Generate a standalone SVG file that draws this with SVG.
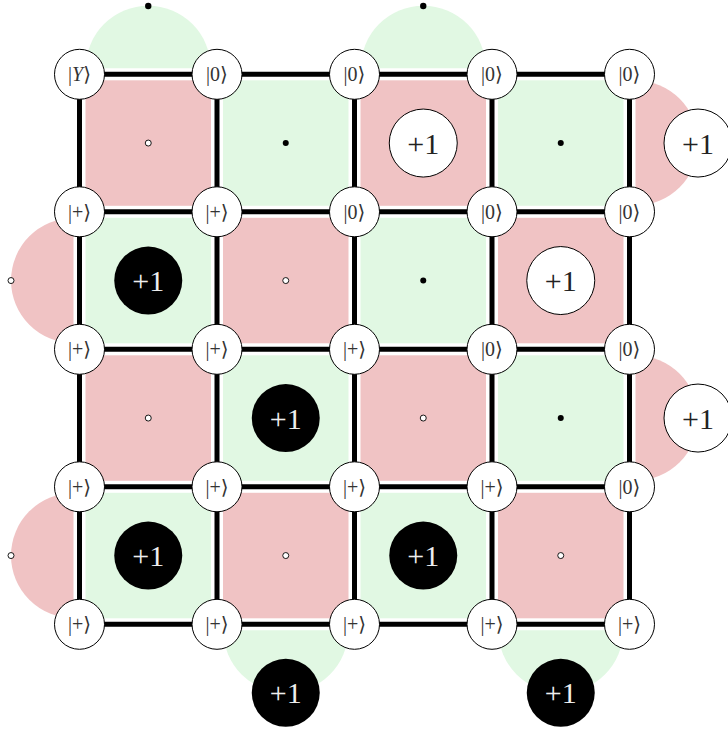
<svg xmlns="http://www.w3.org/2000/svg" width="728" height="731" viewBox="0 0 728 731">
<style>
.x{fill:#f0c3c4}
.z{fill:#e1f8e3}
.ln{stroke:#000;stroke-width:5;fill:none}
.q{fill:#fff;stroke:#000;stroke-width:1}
.ql{font-family:"Liberation Serif","DejaVu Serif",serif;font-size:20px;fill:#333;text-anchor:middle}
.pw{fill:#fff;stroke:#000;stroke-width:1}
.pb{fill:#000}
.pt{font-family:"Liberation Serif","DejaVu Serif",serif;font-size:30px;text-anchor:middle}
.dw{fill:#fff;stroke:#000;stroke-width:0.9}
.db{fill:#000}
</style>
<rect width="728" height="731" fill="#fff"/>
<g id="plaquettes">
<rect class="x" x="85.5" y="80.3" width="125.5" height="125.5"/>
<rect class="z" x="223" y="80.3" width="125.5" height="125.5"/>
<rect class="x" x="360.5" y="80.3" width="125.5" height="125.5"/>
<rect class="z" x="498" y="80.3" width="125.5" height="125.5"/>
<rect class="z" x="85.5" y="217.8" width="125.5" height="125.5"/>
<rect class="x" x="223" y="217.8" width="125.5" height="125.5"/>
<rect class="z" x="360.5" y="217.8" width="125.5" height="125.5"/>
<rect class="x" x="498" y="217.8" width="125.5" height="125.5"/>
<rect class="x" x="85.5" y="355.3" width="125.5" height="125.5"/>
<rect class="z" x="223" y="355.3" width="125.5" height="125.5"/>
<rect class="x" x="360.5" y="355.3" width="125.5" height="125.5"/>
<rect class="z" x="498" y="355.3" width="125.5" height="125.5"/>
<rect class="z" x="85.5" y="492.8" width="125.5" height="125.5"/>
<rect class="x" x="223" y="492.8" width="125.5" height="125.5"/>
<rect class="z" x="360.5" y="492.8" width="125.5" height="125.5"/>
<rect class="x" x="498" y="492.8" width="125.5" height="125.5"/>
<path class="z" d="M85.75 68.3 A62.5 62.5 0 0 1 210.75 68.3 Z"/>
<path class="z" d="M360.75 68.3 A62.5 62.5 0 0 1 485.75 68.3 Z"/>
<path class="x" d="M73.5 218.05 A62.5 62.5 0 0 0 73.5 343.05 Z"/>
<path class="x" d="M73.5 493.05 A62.5 62.5 0 0 0 73.5 618.05 Z"/>
<path class="x" d="M635.5 80.55 A62.5 62.5 0 0 1 635.5 205.55 Z"/>
<path class="x" d="M635.5 355.55 A62.5 62.5 0 0 1 635.5 480.55 Z"/>
<path class="z" d="M223.25 630.3 A62.5 62.5 0 0 0 348.25 630.3 Z"/>
<path class="z" d="M498.25 630.3 A62.5 62.5 0 0 0 623.25 630.3 Z"/>
</g>
<g id="connectors">
<path class="ln" d="M79.5 74.3H629.5M79.5 211.8H629.5M79.5 349.3H629.5M79.5 486.8H629.5M79.5 624.3H629.5"/>
<path class="ln" d="M79.5 74.3V624.3M217 74.3V624.3M354.5 74.3V624.3M492 74.3V624.3M629.5 74.3V624.3"/>
</g>
<g id="markers">
<circle class="dw" cx="148.25" cy="143.05" r="3"/>
<circle class="db" cx="285.75" cy="143.05" r="3"/>
<g id="p02"><circle class="pw" cx="423.25" cy="143.05" r="34"/><text class="pt" x="423.25" y="153.5" fill="#222">+1</text></g>
<circle class="db" cx="560.75" cy="143.05" r="3"/>
<g id="p10"><circle class="pb" cx="148.25" cy="280.55" r="34"/><text class="pt" x="148.25" y="291" fill="#eee">+1</text></g>
<circle class="dw" cx="285.75" cy="280.55" r="3"/>
<circle class="db" cx="423.25" cy="280.55" r="3"/>
<g id="p13"><circle class="pw" cx="560.75" cy="280.55" r="34"/><text class="pt" x="560.75" y="291" fill="#222">+1</text></g>
<circle class="dw" cx="148.25" cy="418.05" r="3"/>
<g id="p21"><circle class="pb" cx="285.75" cy="418.05" r="34"/><text class="pt" x="285.75" y="428.5" fill="#eee">+1</text></g>
<circle class="dw" cx="423.25" cy="418.05" r="3"/>
<circle class="db" cx="560.75" cy="418.05" r="3"/>
<g id="p30"><circle class="pb" cx="148.25" cy="555.55" r="34"/><text class="pt" x="148.25" y="566" fill="#eee">+1</text></g>
<circle class="dw" cx="285.75" cy="555.55" r="3"/>
<g id="p32"><circle class="pb" cx="423.25" cy="555.55" r="34"/><text class="pt" x="423.25" y="566" fill="#eee">+1</text></g>
<circle class="dw" cx="560.75" cy="555.55" r="3"/>
<circle class="db" cx="148.25" cy="6" r="3.2"/>
<circle class="db" cx="423.25" cy="6" r="3.2"/>
<circle class="dw" cx="11" cy="280.55" r="3"/>
<circle class="dw" cx="11" cy="555.55" r="3"/>
<g id="pr0"><circle class="pw" cx="698" cy="143.05" r="34"/><text class="pt" x="698" y="153.5" fill="#222">+1</text></g>
<g id="pr2"><circle class="pw" cx="698" cy="418.05" r="34"/><text class="pt" x="698" y="428.5" fill="#222">+1</text></g>
<g id="pb1"><circle class="pb" cx="285.75" cy="692.8" r="34"/><text class="pt" x="285.75" y="703.3" fill="#eee">+1</text></g>
<g id="pb3"><circle class="pb" cx="560.75" cy="692.8" r="34"/><text class="pt" x="560.75" y="703.3" fill="#eee">+1</text></g>
</g>
<g id="q00"><circle class="q" cx="79.5" cy="74.3" r="25"/><text class="ql" x="79.5" y="81">|<tspan font-style="italic">Y</tspan>⟩</text></g>
<g id="q01"><circle class="q" cx="217" cy="74.3" r="25"/><text class="ql" x="217" y="81">|0⟩</text></g>
<g id="q02"><circle class="q" cx="354.5" cy="74.3" r="25"/><text class="ql" x="354.5" y="81">|0⟩</text></g>
<g id="q03"><circle class="q" cx="492" cy="74.3" r="25"/><text class="ql" x="492" y="81">|0⟩</text></g>
<g id="q04"><circle class="q" cx="629.5" cy="74.3" r="25"/><text class="ql" x="629.5" y="81">|0⟩</text></g>
<g id="q10"><circle class="q" cx="79.5" cy="211.8" r="25"/><text class="ql" x="79.5" y="218.5">|+⟩</text></g>
<g id="q11"><circle class="q" cx="217" cy="211.8" r="25"/><text class="ql" x="217" y="218.5">|+⟩</text></g>
<g id="q12"><circle class="q" cx="354.5" cy="211.8" r="25"/><text class="ql" x="354.5" y="218.5">|0⟩</text></g>
<g id="q13"><circle class="q" cx="492" cy="211.8" r="25"/><text class="ql" x="492" y="218.5">|0⟩</text></g>
<g id="q14"><circle class="q" cx="629.5" cy="211.8" r="25"/><text class="ql" x="629.5" y="218.5">|0⟩</text></g>
<g id="q20"><circle class="q" cx="79.5" cy="349.3" r="25"/><text class="ql" x="79.5" y="356">|+⟩</text></g>
<g id="q21"><circle class="q" cx="217" cy="349.3" r="25"/><text class="ql" x="217" y="356">|+⟩</text></g>
<g id="q22"><circle class="q" cx="354.5" cy="349.3" r="25"/><text class="ql" x="354.5" y="356">|+⟩</text></g>
<g id="q23"><circle class="q" cx="492" cy="349.3" r="25"/><text class="ql" x="492" y="356">|0⟩</text></g>
<g id="q24"><circle class="q" cx="629.5" cy="349.3" r="25"/><text class="ql" x="629.5" y="356">|0⟩</text></g>
<g id="q30"><circle class="q" cx="79.5" cy="486.8" r="25"/><text class="ql" x="79.5" y="493.5">|+⟩</text></g>
<g id="q31"><circle class="q" cx="217" cy="486.8" r="25"/><text class="ql" x="217" y="493.5">|+⟩</text></g>
<g id="q32"><circle class="q" cx="354.5" cy="486.8" r="25"/><text class="ql" x="354.5" y="493.5">|+⟩</text></g>
<g id="q33"><circle class="q" cx="492" cy="486.8" r="25"/><text class="ql" x="492" y="493.5">|+⟩</text></g>
<g id="q34"><circle class="q" cx="629.5" cy="486.8" r="25"/><text class="ql" x="629.5" y="493.5">|0⟩</text></g>
<g id="q40"><circle class="q" cx="79.5" cy="624.3" r="25"/><text class="ql" x="79.5" y="631">|+⟩</text></g>
<g id="q41"><circle class="q" cx="217" cy="624.3" r="25"/><text class="ql" x="217" y="631">|+⟩</text></g>
<g id="q42"><circle class="q" cx="354.5" cy="624.3" r="25"/><text class="ql" x="354.5" y="631">|+⟩</text></g>
<g id="q43"><circle class="q" cx="492" cy="624.3" r="25"/><text class="ql" x="492" y="631">|+⟩</text></g>
<g id="q44"><circle class="q" cx="629.5" cy="624.3" r="25"/><text class="ql" x="629.5" y="631">|+⟩</text></g>
</svg>
